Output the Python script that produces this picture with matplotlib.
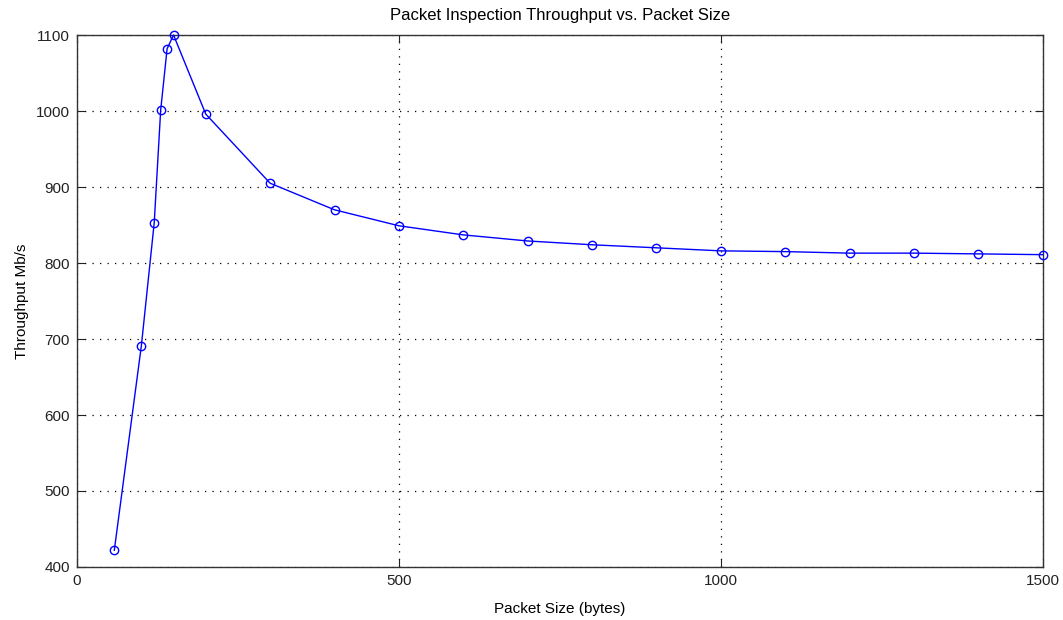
import matplotlib
matplotlib.use("Agg")
import matplotlib.pyplot as plt

# packet size (bytes) and measured throughput (Mb/s)
sizes = [58, 100, 120, 130, 140, 150, 200, 300, 400, 500, 600, 700, 800,
         900, 1000, 1100, 1200, 1300, 1400, 1500]
throughput = [422, 691, 853, 1001, 1082, 1100, 996, 905, 870, 849, 837, 829,
              824, 820, 816, 815, 813, 813, 812, 811]

plt.rcParams['font.family'] = ['Liberation Sans', 'DejaVu Sans']

fig = plt.figure(figsize=(10.63, 6.2), dpi=100)
ax = fig.add_axes([0.0724, 0.0855, 0.9086, 0.858])

ax.plot(sizes, throughput, color='blue', linewidth=1, marker='o',
        markersize=6, markerfacecolor='none', markeredgecolor='blue',
        markeredgewidth=1, clip_on=False, zorder=3)

ax.set_xlim(0, 1500)
ax.set_ylim(400, 1100)
ax.set_xticks([0, 500, 1000, 1500])
ax.set_yticks(range(400, 1101, 100))
ax.grid(True, color='black', linestyle=(0, (1, 5)), linewidth=0.9)
ax.tick_params(direction='in', top=True, right=True, labelsize=11,
               length=6, pad=5, colors='#222222')
for s in ax.spines.values():
    s.set_linewidth(1)
    s.set_color('#333333')

ax.set_xlabel("Packet Size (bytes)", fontsize=11, labelpad=10)
ax.set_ylabel("Throughput Mb/s", fontsize=11, labelpad=5)
ax.set_title("Packet Inspection Throughput vs. Packet Size", fontsize=12, pad=11)

fig.savefig("out.png", dpi=100)
